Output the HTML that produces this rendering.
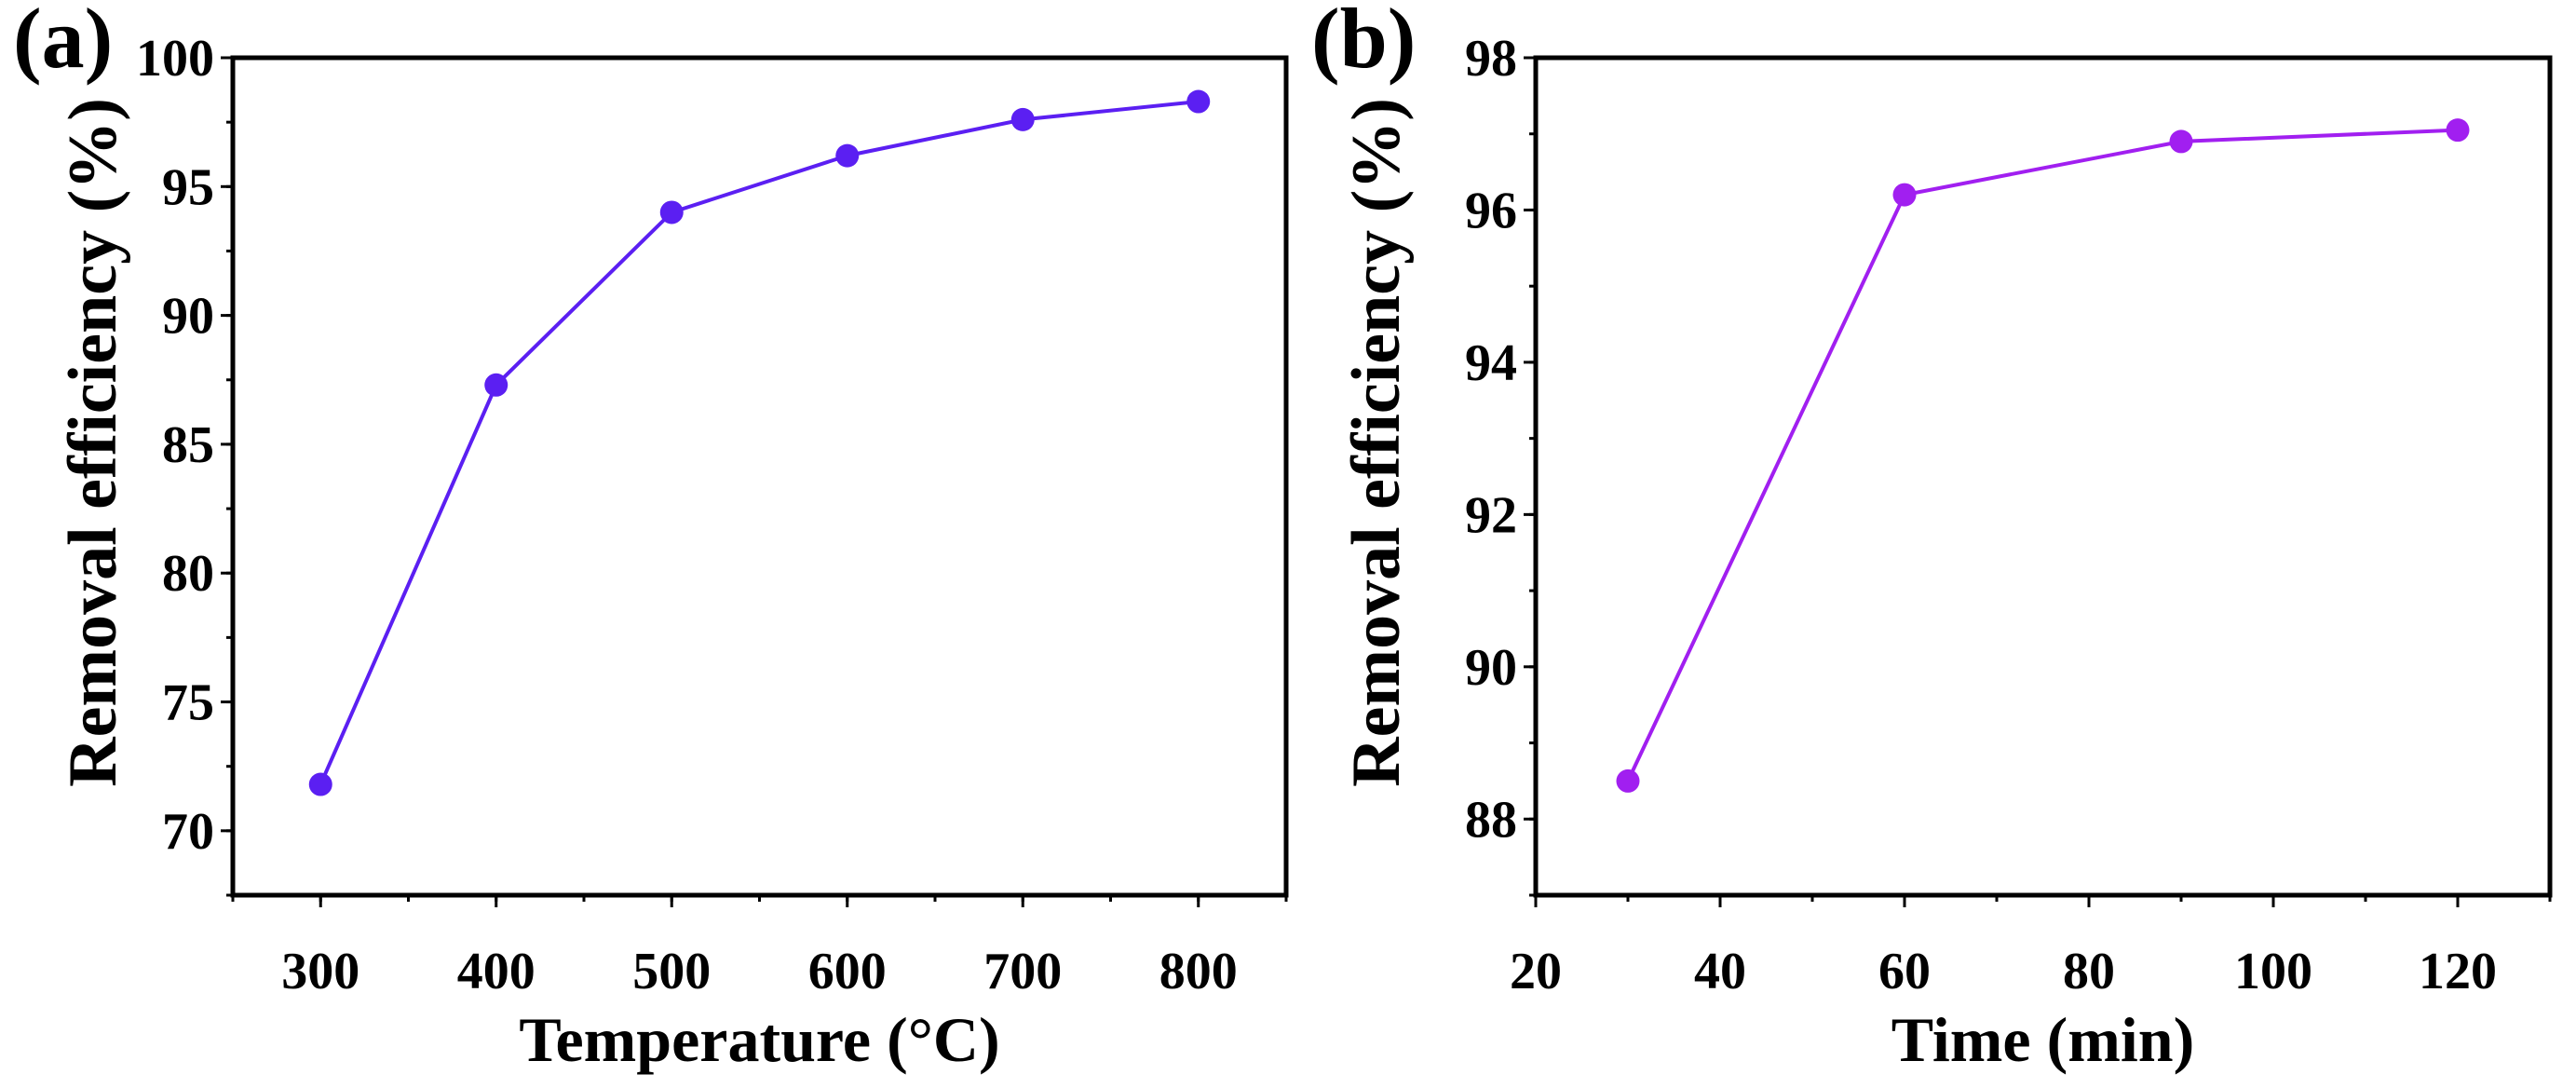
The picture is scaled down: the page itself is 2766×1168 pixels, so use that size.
<!DOCTYPE html>
<html><head><meta charset="utf-8"><style>
html,body{margin:0;padding:0;background:#fff;}
svg{display:block;font-family:"Liberation Serif",serif;font-weight:bold;}
</style></head><body>
<svg id="chart" width="2766" height="1168" viewBox="0 0 2766 1168" xmlns="http://www.w3.org/2000/svg"></svg>
<script>
const aX = [300, 400, 500, 600, 700, 800];
const aY = [71.8, 87.3, 94.0, 96.2, 97.6, 98.3];
const aXTicks = [300, 400, 500, 600, 700, 800];
const aYTicks = [70, 75, 80, 85, 90, 95, 100];
const bX = [30, 60, 90, 120];
const bY = [88.5, 96.2, 96.9, 97.05];
const bXTicks = [20, 40, 60, 80, 100, 120];
const bYTicks = [88, 90, 92, 94, 96, 98];

const NS = 'http://www.w3.org/2000/svg';
const svg = document.getElementById('chart');
function mk(tag, attrs, parent) {
  const e = document.createElementNS(NS, tag);
  for (const k in attrs) e.setAttribute(k, attrs[k]);
  (parent || svg).appendChild(e);
  return e;
}
function panel(cfg) {
  const g = mk('g', {});
  
  
  const L = cfg.box[0], R = cfg.box[1], T = cfg.box[2], B = cfg.box[3];
  const sx = v => L + (v - cfg.xr[0]) / (cfg.xr[1] - cfg.xr[0]) * (R - L);
  const sy = v => B - (v - cfg.yr[0]) / (cfg.yr[1] - cfg.yr[0]) * (B - T);
  for (let v = cfg.xr[0]; v <= cfg.xr[1] + 1e-9; v += cfg.xMinor) {
    const t = mk('line', {x1: sx(v), x2: sx(v), y1: B, y2: B + 7, stroke: '#000', 'stroke-width': 3}, g);
    
    
  }
  for (let v = cfg.yr[0]; v <= cfg.yr[1] + 1e-9; v += cfg.yMinor) {
    const t = mk('line', {x1: L - 7, x2: L, y1: sy(v), y2: sy(v), stroke: '#000', 'stroke-width': 3}, g);
    
    
  }
  cfg.xt.forEach(v => {
    const t = mk('line', {x1: sx(v), x2: sx(v), y1: B, y2: B + 13, stroke: '#000', 'stroke-width': 3}, g);
    
    
    const l = mk('text', {x: sx(v), y: B + 100, 'font-size': 56, 'text-anchor': 'middle'}, g);
    l.textContent = v;
    
    
  });
  cfg.yt.forEach(v => {
    const t = mk('line', {x1: L - 13, x2: L, y1: sy(v), y2: sy(v), stroke: '#000', 'stroke-width': 3}, g);
    
    
    const l = mk('text', {x: L - 20, y: sy(v) + 19, 'font-size': 56, 'text-anchor': 'end'}, g);
    l.textContent = v;
    
    
  });
  const box = mk('rect', {x: L, y: T, width: R - L, height: B - T, fill: 'none', stroke: '#000', 'stroke-width': 5}, g);
  
  
  const pts = cfg.x.map((v, i) => sx(v) + ',' + sy(cfg.y[i])).join(' ');
  const pl = mk('polyline', {points: pts, fill: 'none', stroke: cfg.color, 'stroke-width': 4}, g);
  
  
  cfg.x.forEach((v, i) => {
    const c = mk('circle', {cx: sx(v), cy: sy(cfg.y[i]), r: 12.5, fill: cfg.color}, g);
    
    
  });
  const xt = mk('text', {x: (L + R) / 2, y: B + 178, 'font-size': 68, 'text-anchor': 'middle'}, g);
  xt.textContent = cfg.xTitle;
  
  
  const yc = 475;
  const yt = mk('text', {x: cfg.yTitleX, y: yc, 'font-size': 74, 'text-anchor': 'middle', transform: 'rotate(-90 ' + cfg.yTitleX + ' ' + yc + ')'}, g);
  yt.textContent = 'Removal efficiency (%)';
  
  
  const pt = mk('text', {x: cfg.labelX, y: 72, 'font-size': 92}, g);
  pt.textContent = cfg.label;
  
  
}
panel({name: 'panel-a', box: [250, 1381, 62, 961], xr: [250, 850], yr: [67.5, 100], xt: aXTicks, yt: aYTicks,
  xMinor: 50, yMinor: 2.5, x: aX, y: aY, color: '#5b1ff2', xTitle: 'Temperature (°C)', yTitleX: 124, label: '(a)', labelX: 14});
panel({name: 'panel-b', box: [1649, 2738, 62, 961], xr: [20, 130], yr: [87, 98], xt: bXTicks, yt: bYTicks,
  xMinor: 10, yMinor: 1, x: bX, y: bY, color: '#a11ff0', xTitle: 'Time (min)', yTitleX: 1502, label: '(b)', labelX: 1408});
</script>
</body></html>
